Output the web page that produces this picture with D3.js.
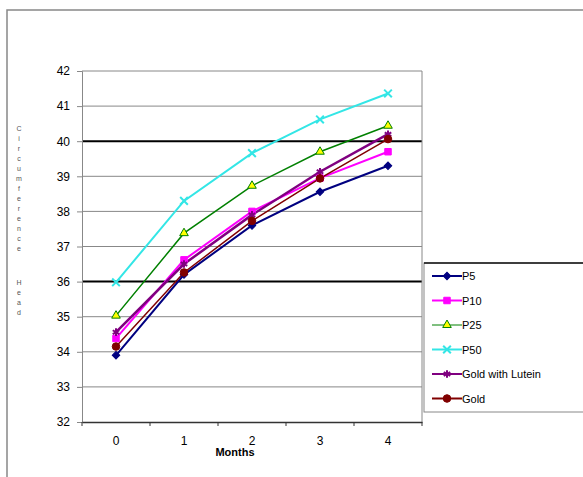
<!DOCTYPE html>
<html>
<head>
<meta charset="utf-8">
<script src="https://cdn.jsdelivr.net/npm/d3@7"></script>
<style>
  body { margin: 0; background: #fff; }
  text { font-family: Arial, "Liberation Sans", sans-serif; }
</style>
</head>
<body>
<div id="chart"></div>
<script>
const months = ['0', '1', '2', '3', '4'];
const p5 = [33.9, 36.2, 37.6, 38.56, 39.3];
const p10 = [34.38, 36.62, 38.0, 38.95, 39.7];
const p25 = [35.03, 37.38, 38.73, 39.7, 40.44];
const p50 = [35.98, 38.3, 39.66, 40.62, 41.36];
const goldLutein = [34.56, 36.5, 37.9, 39.13, 40.2];
const gold = [34.15, 36.26, 37.73, 38.94, 40.06];
const yTicks = [32, 33, 34, 35, 36, 37, 38, 39, 40, 41, 42];
const blackGrid = [36, 40];

const series = [
  {name: 'P5', values: p5, color: '#000080', sym: d3.symbolSquare, rot: 45, size: 28, width: 2, fill: '#000080'},
  {name: 'P10', values: p10, color: '#ff00ff', sym: d3.symbolSquare, rot: 0, size: 42, width: 2, fill: '#ff00ff'},
  {name: 'P25', values: p25, color: '#008000', sym: d3.symbolTriangle, rot: 0, size: 32, width: 1.5, fill: '#ffff00'},
  {name: 'P50', values: p50, color: '#33e6e6', sym: d3.symbolX, rot: 0, size: 40, width: 2, fill: 'none'},
  {name: 'Gold with Lutein', values: goldLutein, color: '#800080', sym: d3.symbolAsterisk, rot: 0, size: 40, width: 2.5, fill: 'none'},
  {name: 'Gold', values: gold, color: '#800000', sym: d3.symbolCircle, rot: 0, size: 45, width: 1.5, fill: '#800000'},
];

const width = 583;
const height = 477;
const plotLeft = 82, plotRight = 422, plotTop = 71, plotBottom = 422;

const svg = d3.select('#chart').append('svg')
    .attr('width', width)
    .attr('height', height);

// outer frame
svg.append('path')
    .attr('d', `M7,${height}V10H${width}`)
    .attr('fill', 'none')
    .attr('stroke', '#888')
    .attr('stroke-width', 1.5);

const x = d3.scaleBand().domain(months).range([plotLeft, plotRight]);
const y = d3.scaleLinear().domain([32, 42]).range([plotBottom, plotTop]);
const cx = (d) => x(d) + x.bandwidth() / 2;

// gridlines
svg.append('g').selectAll('line')
    .data(yTicks.filter((t) => t > 32))
    .join('line')
    .attr('x1', plotLeft).attr('x2', plotRight)
    .attr('y1', (d) => y(d)).attr('y2', (d) => y(d))
    .attr('stroke', (d) => blackGrid.includes(d) ? '#000' : '#888')
    .attr('stroke-width', (d) => blackGrid.includes(d) ? 2 : 1);

// plot border right
svg.append('line')
    .attr('x1', plotRight).attr('x2', plotRight)
    .attr('y1', plotTop).attr('y2', plotBottom)
    .attr('stroke', '#888');

// y axis
const yAxis = svg.append('g')
    .attr('transform', `translate(${plotLeft},0)`)
    .call(d3.axisLeft(y).tickValues(yTicks).tickSize(5).tickPadding(7));
yAxis.select('.domain').attr('stroke', '#888');
yAxis.selectAll('.tick line').attr('stroke', '#888');
yAxis.selectAll('.tick text').attr('font-size', 12).attr('fill', '#000');

// x axis
const xAxis = svg.append('g')
    .attr('transform', `translate(0,${plotBottom})`)
    .call(d3.axisBottom(x).tickSize(0).tickPadding(14));
xAxis.select('.domain').attr('stroke', '#333').attr('stroke-width', 1.5);
xAxis.selectAll('.tick text').attr('font-size', 12).attr('fill', '#000');
svg.append('g').selectAll('line')
    .data(months.concat(['end']))
    .join('line')
    .attr('x1', (d, i) => plotLeft + i * x.bandwidth())
    .attr('x2', (d, i) => plotLeft + i * x.bandwidth())
    .attr('y1', plotBottom).attr('y2', plotBottom + 4)
    .attr('stroke', '#333');

svg.append('text')
    .attr('x', 235).attr('y', 456)
    .attr('text-anchor', 'middle')
    .attr('font-size', 11)
    .attr('font-weight', 'bold')
    .text('Months');

// stacked y title
const title = 'Circumference   Head'.split('');
svg.append('g').selectAll('text')
    .data(title)
    .join('text')
    .attr('x', 19)
    .attr('y', (d, i) => 131 + i * 10 + (i > 13 ? -6 : 0))
    .attr('text-anchor', 'middle')
    .attr('font-size', 7)
    .attr('fill', '#555')
    .text((d) => d);

// lines
const line = d3.line()
    .x((d, i) => cx(months[i]))
    .y((d) => y(d));

series.forEach((s) => {
  svg.append('path')
      .datum(s.values)
      .attr('d', line)
      .attr('fill', 'none')
      .attr('stroke', s.color)
      .attr('stroke-width', s.width);
});

function drawSymbol(g, s, px, py) {
  const stroked = s.fill === 'none';
  g.append('path')
      .attr('d', d3.symbol().type(s.sym).size(s.size)())
      .attr('transform', `translate(${px},${py}) rotate(${s.rot})`)
      .attr('fill', s.fill)
      .attr('stroke', s.color)
      .attr('stroke-width', stroked ? 2 : 1);
}

series.forEach((s) => {
  const g = svg.append('g');
  s.values.forEach((v, i) => drawSymbol(g, s, cx(months[i]), y(v)));
});

// legend
const lg = svg.append('g');
lg.append('rect')
    .attr('x', 424).attr('y', 263)
    .attr('width', 170).attr('height', 149)
    .attr('fill', '#fff')
    .attr('stroke', '#888');
lg.append('line')
    .attr('x1', 424).attr('x2', width)
    .attr('y1', 263).attr('y2', 263)
    .attr('stroke', '#111').attr('stroke-width', 1.5);

series.forEach((s, i) => {
  const ly = 276 + i * 24.5;
  lg.append('line')
      .attr('x1', 432).attr('x2', 462)
      .attr('y1', ly).attr('y2', ly)
      .attr('stroke', s.color)
      .attr('stroke-width', s.name === 'P25' ? 1 : 2);
  drawSymbol(lg, s, 447, ly);
  lg.append('text')
      .attr('x', 462).attr('y', ly + 4)
      .attr('font-size', 11)
      .text(s.name);
});
</script>
</body>
</html>
